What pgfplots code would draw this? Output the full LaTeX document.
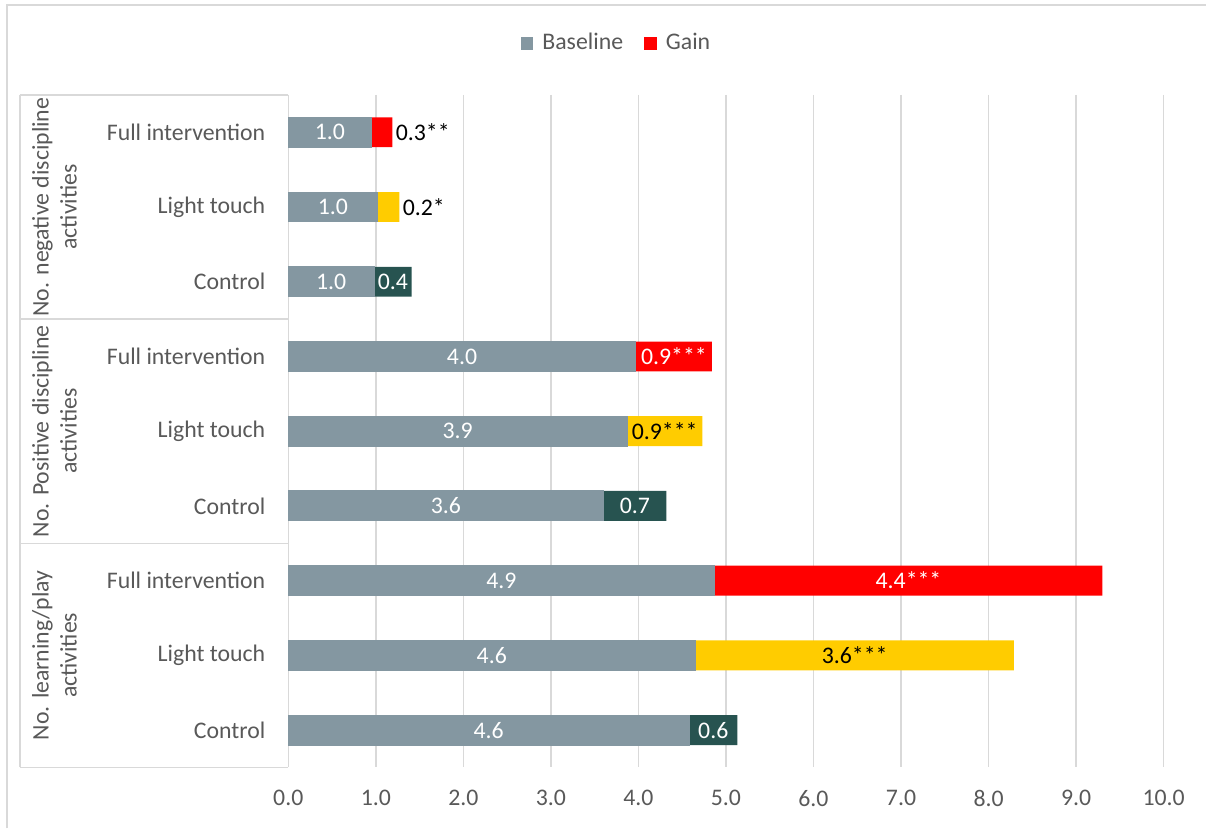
\documentclass[border=0pt]{standalone}
\usepackage{pgfplots}
\pgfplotsset{compat=1.18}
\usepackage{pgfplotstable}
\usepackage{fontspec}
\setmainfont{Carlito}

\definecolor{basec}{HTML}{8497A1}
\definecolor{fullc}{HTML}{FF0000}
\definecolor{lightc}{HTML}{FFCC00}
\definecolor{ctrlc}{HTML}{275350}
\definecolor{txt}{HTML}{595959}
\definecolor{linec}{HTML}{D9D9D9}

\newcommand\chartfont{\fontsize{11.9bp}{14bp}\selectfont}

% row 0 is the top bar
\pgfplotstableread{
y base lab
0 0.95 1.0
1 1.02 1.0
2 0.98 1.0
3 3.97 4.0
4 3.87 3.9
5 3.60 3.6
6 4.87 4.9
7 4.65 4.6
8 4.58 4.6
}\tbase
\pgfplotstableread{
y base gain lab
0 0.95 0.24 0.3**
3 3.97 0.87 0.9***
6 4.87 4.43 4.4***
}\tfull
\pgfplotstableread{
y base gain lab
1 1.02 0.25 0.2*
4 3.87 0.86 0.9***
7 4.65 3.64 3.6***
}\tlight
\pgfplotstableread{
y base gain lab
2 0.98 0.43 0.4
5 3.60 0.72 0.7
8 4.58 0.55 0.6
}\tctrl

\begin{document}
\begin{tikzpicture}[font=\chartfont]
\begin{axis}[
    scale only axis,
    width=438bp, height=336.5bp,
    xmin=0, xmax=10, ymin=-0.5, ymax=8.5,
    y dir=reverse,
    axis y line*=left, axis x line*=bottom,
    x axis line style={draw=none},
    y axis line style={draw=linec, line width=0.75bp},
    major tick length=0pt,
    xtick={0,1,...,10},
    xmajorgrids,
    grid style={draw=linec, line width=0.75bp},
    ytick={0,...,8},
    yticklabels={Full intervention, Light touch, Control,
                 Full intervention, Light touch, Control,
                 Full intervention, Light touch, Control},
    ticklabel style={text=txt, font=\chartfont},
    xticklabel style={/pgf/number format/fixed,
        /pgf/number format/fixed zerofill,
        /pgf/number format/precision=1,
        /pgf/number format/assume math mode=true,
        yshift=-8bp},
    yticklabel style={xshift=-8bp},
    clip=false,
    legend style={at={(0.376,1.077)}, anchor=center, draw=none,
        legend columns=2, font=\chartfont, text=txt,
        /tikz/every odd column/.append style={column sep=2.5bp},
        /tikz/every even column/.append style={column sep=8.5bp}},
    legend image code/.code={\fill[#1] (0bp,-3.2bp) rectangle (6.4bp,3.2bp);},
    every node near coord/.append style={font=\chartfont, anchor=center},
]
\addlegendimage{fill=basec, draw=none}
\addlegendentry{Baseline}
\addlegendimage{fill=fullc, draw=none}
\addlegendentry{Gain}

% gain bars: drawn to base+gain, the baseline bar covers the first part
\addplot[xbar, bar width=0.4, bar shift=0pt, fill=fullc, draw=none, forget plot]
    table[x expr=\thisrow{base}+\thisrow{gain}, y=y] {\tfull};
\addplot[xbar, bar width=0.4, bar shift=0pt, fill=lightc, draw=none, forget plot]
    table[x expr=\thisrow{base}+\thisrow{gain}, y=y] {\tlight};
\addplot[xbar, bar width=0.4, bar shift=0pt, fill=ctrlc, draw=none, forget plot]
    table[x expr=\thisrow{base}+\thisrow{gain}, y=y] {\tctrl};
\addplot[xbar, bar width=0.4, bar shift=0pt, fill=basec, draw=basec, line width=0.5bp, forget plot]
    table[x=base, y=y] {\tbase};

% data labels
\addplot[draw=none, mark=none, forget plot, nodes near coords,
    point meta=explicit symbolic,
    every node near coord/.append style={text=white}]
    table[x expr=0.5*\thisrow{base}, y=y, meta=lab] {\tbase};
\addplot[draw=none, mark=none, forget plot, nodes near coords,
    point meta=explicit symbolic, skip coords between index={0}{1},
    every node near coord/.append style={text=white}]
    table[x expr=\thisrow{base}+0.5*\thisrow{gain}, y=y, meta=lab] {\tfull};
\addplot[draw=none, mark=none, forget plot, nodes near coords,
    point meta=explicit symbolic, skip coords between index={1}{3},
    every node near coord/.append style={text=black, anchor=west, inner sep=0pt, xshift=1.5bp}]
    table[x expr=\thisrow{base}+\thisrow{gain}, y=y, meta=lab] {\tfull};
\addplot[draw=none, mark=none, forget plot, nodes near coords,
    point meta=explicit symbolic, skip coords between index={0}{1},
    every node near coord/.append style={text=black}]
    table[x expr=\thisrow{base}+0.5*\thisrow{gain}, y=y, meta=lab] {\tlight};
\addplot[draw=none, mark=none, forget plot, nodes near coords,
    point meta=explicit symbolic, skip coords between index={1}{3},
    every node near coord/.append style={text=black, anchor=west, inner sep=0pt, xshift=1.5bp}]
    table[x expr=\thisrow{base}+\thisrow{gain}, y=y, meta=lab] {\tlight};
\addplot[draw=none, mark=none, forget plot, nodes near coords,
    point meta=explicit symbolic,
    every node near coord/.append style={text=white}]
    table[x expr=\thisrow{base}+0.5*\thisrow{gain}, y=y, meta=lab] {\tctrl};

% group boxes on the category axis
\draw[linec, line width=0.75bp] ([xshift=-134.25bp]axis cs:0,-0.5) -- (axis cs:0,-0.5);
\draw[linec, line width=0.75bp] ([xshift=-134.25bp]axis cs:0,2.5) -- (axis cs:0,2.5);
\draw[linec, line width=0.75bp] ([xshift=-134.25bp]axis cs:0,5.5) -- (axis cs:0,5.5);
\draw[linec, line width=0.75bp] ([xshift=-134.25bp]axis cs:0,8.5) -- (axis cs:0,8.5);
\draw[linec, line width=0.75bp] ([xshift=-134.25bp]axis cs:0,-0.5) -- ([xshift=-134.25bp]axis cs:0,8.5);
\node[rotate=90, align=center, text=txt] at ([xshift=-117bp]axis cs:0,1)
    {No. negative discipline\\activities};
\node[rotate=90, align=center, text=txt] at ([xshift=-117bp]axis cs:0,4)
    {No. Positive discipline\\activities};
\node[rotate=90, align=center, text=txt] at ([xshift=-117bp]axis cs:0,7)
    {No. learning/play\\activities};
\end{axis}
% chart area and its border (cut off at right and bottom)
\path ([shift={(-144.25bp,-30.5bp)}]current axis.south west)
    rectangle ([shift={(459.25bp,384bp)}]current axis.south west);
\draw[linec, line width=0.9bp]
    ([shift={(-140.75bp,-30.5bp)}]current axis.south west)
 -- ([shift={(-140.75bp,381.5bp)}]current axis.south west)
 -- ([shift={(459.25bp,381.5bp)}]current axis.south west);
\end{tikzpicture}
\end{document}
